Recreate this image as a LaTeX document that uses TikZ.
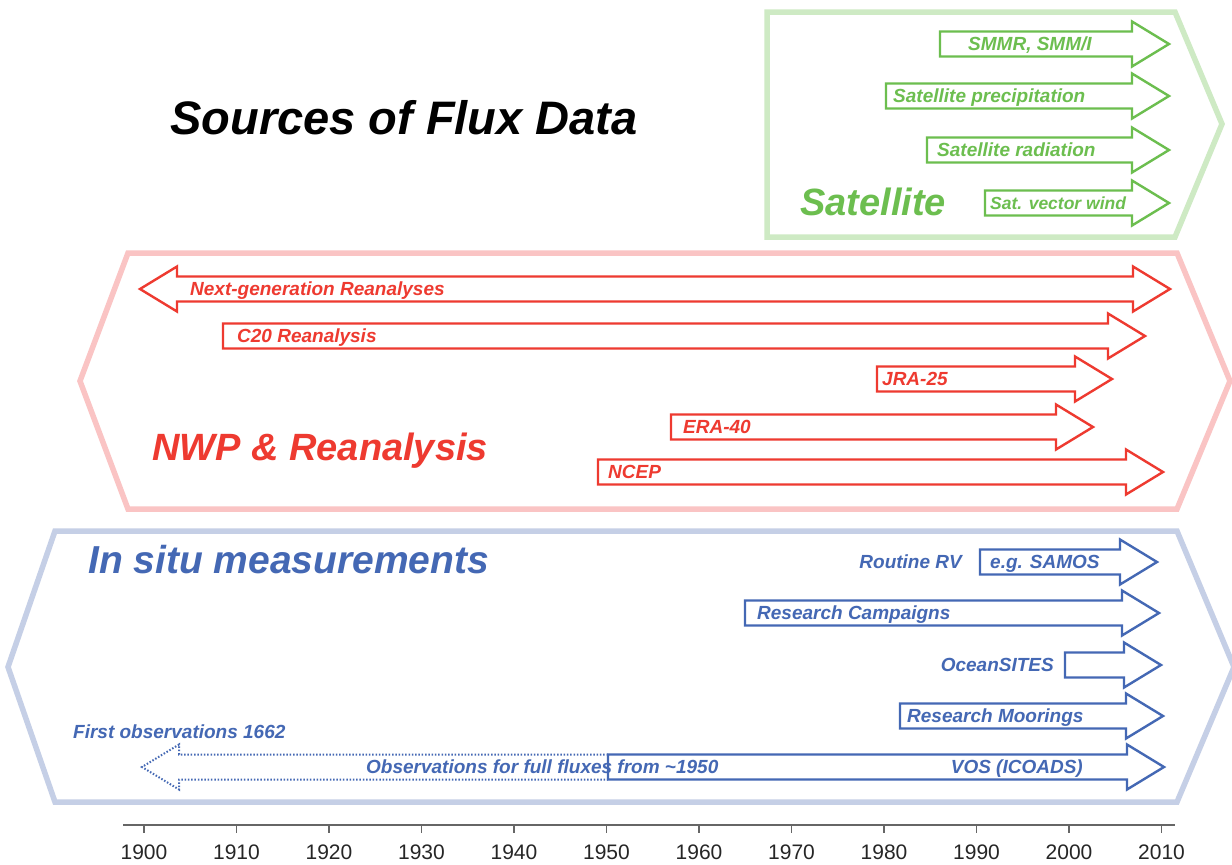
\documentclass[tikz,border=0pt]{standalone}
\usepackage{fontspec}
\setmainfont{Liberation Sans}
\usetikzlibrary{positioning,calc}
\definecolor{satgreen}{RGB}{108,190,79}
\definecolor{satframe}{RGB}{206,234,196}
\definecolor{nwpred}{RGB}{238,58,48}
\definecolor{nwpframe}{RGB}{250,196,196}
\definecolor{situblue}{RGB}{68,104,180}
\definecolor{situframe}{RGB}{197,207,230}
\tikzstyle{frame}=[line width=5.5pt, line join=miter]
\tikzstyle{flux}=[line width=2.4pt, line join=miter, fill=white]
\tikzstyle{dotflux}=[line width=2pt, line join=miter, dash pattern=on 1.5pt off 1.8pt]
\tikzstyle{lab}=[font=\fontsize{19}{19}\selectfont\bfseries\itshape, inner sep=0pt, text height=13.6pt, text depth=0pt]
\tikzstyle{group}=[font=\fontsize{38}{38}\selectfont\bfseries\itshape, inner sep=0pt, anchor=west, text height=27pt, text depth=0pt]
\tikzstyle{yearlab}=[font=\fontsize{21}{21}\selectfont, inner sep=0pt, text=black!85]
% #1 colour, #2 name, #3 start x, #4 tip x, #5 y, #6 gap to label, #7 label
\newcommand\fluxarrow[7][]{
   \coordinate (#2w) at ({#3},{#5});
   \coordinate (#2e) at ({#4},{#5});
   \draw[flux, draw=#1] ({#3},{#5-12.5}) -- ({#4-37},{#5-12.5}) -- ({#4-37},{#5-22.5}) -- (#2e)
        -- ({#4-37},{#5+22.5}) -- ({#4-37},{#5+12.5}) -- ({#3},{#5+12.5}) -- cycle;
   \node (#2) [lab, text=#1, anchor=west, right=#6pt of #2w] {#7};
}

\begin{document}
\begin{tikzpicture}[x=1pt,y=-1pt]
    \useasboundingbox[fill=white] (0,0) rectangle (1232,865);

    \node (title) [font=\fontsize{47}{47}\selectfont\bfseries\itshape, inner sep=0pt] at (404,118) {Sources of Flux Data};

%frames
    \draw[frame, satframe] (767,12) -- (1175,12) -- (1222,124) -- (1175,237) -- (767,237) -- cycle;
    \draw[frame, nwpframe] (128,253) -- (1177,253) -- (1230,381) -- (1177,509) -- (128,509) -- (80,381) -- cycle;
    \draw[frame, situframe] (55,531) -- (1177,531) -- (1234,667) -- (1177,802) -- (55,802) -- (8,667) -- cycle;

%satellite
    \node (sat) [group, text=satgreen] at (800,202) {Satellite};
    \fluxarrow[satgreen]{smmr}{940}{1169}{44}{28}{SMMR, SMM/I}
    \fluxarrow[satgreen]{precip}{886}{1169}{96}{7}{Satellite precipitation}
    \fluxarrow[satgreen]{rad}{927}{1169}{150}{10}{Satellite radiation}
    \fluxarrow[satgreen]{wind}{985}{1169}{203}{5}{\fontsize{17.5}{17.5}\selectfont Sat. vector wind}

%reanalysis
    \node (nwp) [group, text=nwpred] at (152,447) {NWP \& Reanalysis};
    \coordinate (nextw) at (140,289);
    \coordinate (nexte) at (1170,289);
    \draw[flux, draw=nwpred] (nextw) -- (177,266.5) -- (177,276.5) -- (1133,276.5) -- (1133,266.5) -- (nexte)
        -- (1133,311.5) -- (1133,301.5) -- (177,301.5) -- (177,311.5) -- cycle;
    \node (next) [lab, text=nwpred, anchor=west] at (190,289) {Next-generation Reanalyses};
    \fluxarrow[nwpred]{c20}{223}{1145}{336}{14}{C20 Reanalysis}
    \fluxarrow[nwpred]{jra}{877}{1112}{379}{5}{JRA-25}
    \fluxarrow[nwpred]{era}{671}{1093}{427}{12}{ERA-40}
    \fluxarrow[nwpred]{ncep}{598}{1163}{472}{10}{NCEP}

%in situ
    \node (situ) [group, text=situblue, font=\fontsize{39}{39}\selectfont\bfseries\itshape] at (88,560) {In situ measurements};
    \fluxarrow[situblue]{samos}{980}{1157}{562}{10}{e.g. SAMOS}
    \node (rv) [lab, text=situblue, left=18pt of samosw] {Routine RV};
    \fluxarrow[situblue]{camp}{745}{1159}{613}{12}{Research Campaigns}
    \fluxarrow[situblue]{sites}{1065}{1161}{665}{0}{}
    \node (oceansites) [lab, text=situblue, left=11pt of sitesw] {OceanSITES};
    \fluxarrow[situblue]{moor}{900}{1163}{716}{7}{Research Moorings}
    \fluxarrow[situblue]{vos}{608}{1164}{767}{0}{}
    \draw[dotflux, situblue] (608,754.5) -- (179,754.5) -- (179,744.5) -- (142,767) -- (179,789.5) -- (179,779.5) -- (608,779.5);
    \node (vostext) [lab, text=situblue, left=81pt of vose] {VOS (ICOADS)};
    \node (fullflux) [lab, text=situblue, anchor=west] at (366,767) {Observations for full fluxes from \textasciitilde1950};
    \node (first) [lab, text=situblue, anchor=west] at (73,732) {First observations 1662};

%time axis
    \draw[line width=1.6pt, black!60] (123,825) -- (1175,825);
    \foreach \yr in {1900,1910,...,2010}{
        \pgfmathsetmacro\xx{144+(\yr-1900)*9.25}
        \draw[line width=1.2pt, black!60] (\xx,825) -- (\xx,833);
        \node (yr\yr) [yearlab] at (\xx,852) {\yr};
    }

\end{tikzpicture}
\end{document}
